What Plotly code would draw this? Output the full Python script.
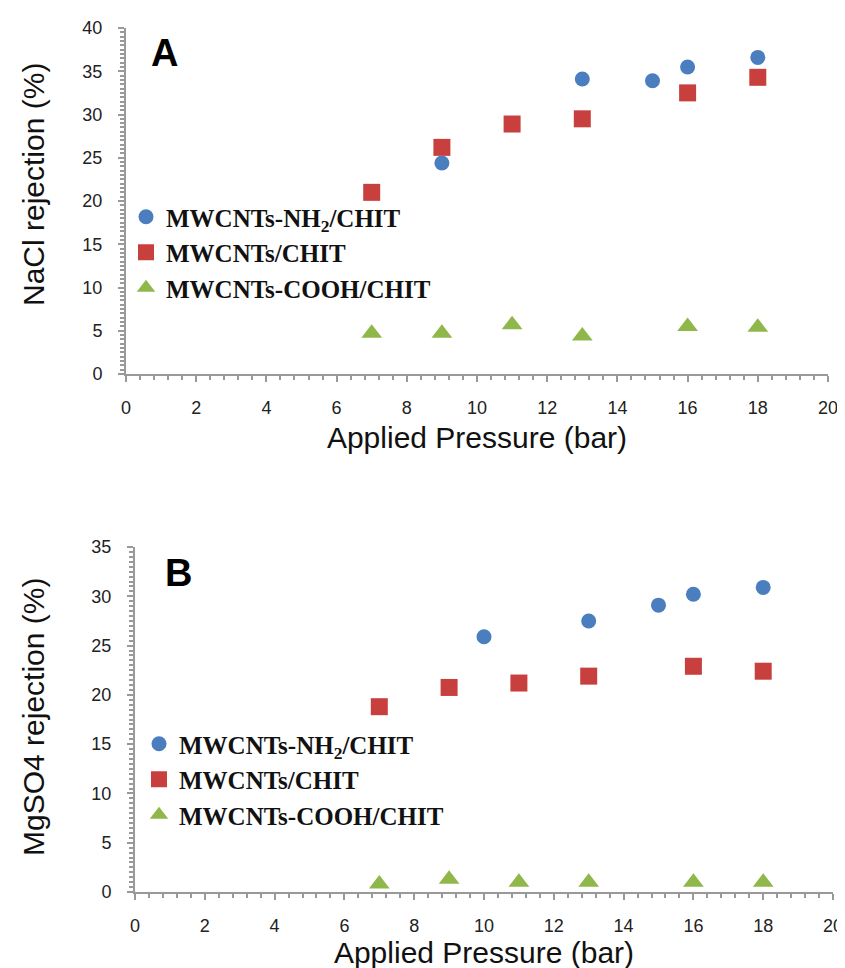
import plotly.graph_objects as go

# ---------------- data ----------------
pressure = [7, 9, 11, 13, 16, 18]

# Panel A : NaCl rejection (%)
nacl_nh2_x = [9, 13, 15, 16, 18]
nacl_nh2 = [24.4, 34.1, 33.9, 35.5, 36.6]
nacl_plain = [21.0, 26.2, 28.9, 29.5, 32.5, 34.3]
nacl_cooh = [4.7, 4.7, 5.7, 4.4, 5.5, 5.4]

# Panel B : MgSO4 rejection (%)
mgso4_nh2_x = [10, 13, 15, 16, 18]
mgso4_nh2 = [25.9, 27.5, 29.1, 30.2, 30.9]
mgso4_plain = [18.8, 20.75, 21.2, 21.9, 22.9, 22.4]
mgso4_cooh = [0.8, 1.3, 1.0, 1.0, 1.0, 1.0]

names = ["<b>MWCNTs-NH<sub>2</sub>/CHIT</b>", "<b>MWCNTs/CHIT</b>", "<b>MWCNTs-COOH/CHIT</b>"]
colors = ["#4a7ebf", "#c8403e", "#8fb74a"]
symbols = ["circle", "square", "triangle-up"]
sizes = [15, 17, 18]

x_ticks = list(range(0, 21, 2))
x_title = "Applied Pressure (bar)"
y_titles = ["NaCl rejection (%)", "MgSO4 rejection (%)"]
panel_labels = ["A", "B"]

# ---------------- figure ----------------
W, H = 845, 968
fig = go.Figure()

panels = [
    ("x", "y", "legend", [nacl_nh2_x, pressure, pressure], [nacl_nh2, nacl_plain, nacl_cooh]),
    ("x2", "y2", "legend2", [mgso4_nh2_x, pressure, pressure], [mgso4_nh2, mgso4_plain, mgso4_cooh]),
]
for xa, ya, lg, xs, ys in panels:
    for i in range(3):
        fig.add_trace(go.Scatter(
            x=xs[i], y=ys[i], mode="markers", name=names[i],
            xaxis=xa, yaxis=ya, legend=lg,
            marker=dict(symbol=symbols[i], color=colors[i], size=sizes[i], line=dict(width=0)),
        ))

def px_x(p):
    return p / W

def px_y(p):
    return (H - p) / H

tick_font = dict(family="Liberation Sans, Arial, sans-serif", size=18, color="#222")
title_font = dict(family="Liberation Sans, Arial, sans-serif", size=30, color="#111")
axis_common = dict(
    showgrid=False, zeroline=False, showline=True, linecolor="#999999", linewidth=2,
    ticks="outside", ticklen=6, tickcolor="#999999", tickwidth=1.5,
    tickfont=tick_font, automargin=False,
)
minor_x = dict(dtick=0.4, ticks="outside", ticklen=4, tickcolor="#999999")
minor_y = dict(dtick=0.5, ticks="outside", ticklen=4, tickcolor="#999999")
legend_font = dict(family="Liberation Serif, Times New Roman, serif", size=25, color="#111")

fig.update_layout(
    width=W, height=H, margin=dict(l=0, r=0, t=0, b=0, autoexpand=False),
    paper_bgcolor="white", plot_bgcolor="white",
    showlegend=True,
    xaxis=dict(domain=[px_x(118), px_x(820)], range=[0, 20], tickvals=x_ticks, anchor="y",
               title=dict(text=x_title, font=title_font, standoff=10),
               minor=minor_x, ticklabelstandoff=10, **axis_common),
    yaxis=dict(domain=[px_y(366), px_y(20)], range=[0, 40], dtick=5, anchor="x",
               minor=minor_y, ticklabelstandoff=12, **axis_common),
    xaxis2=dict(domain=[px_x(127), px_x(825)], range=[0, 20], tickvals=x_ticks, anchor="y2",
                title=dict(text=x_title, font=title_font, standoff=7),
                minor=minor_x, ticklabelstandoff=10, **axis_common),
    yaxis2=dict(domain=[px_y(884), px_y(539)], range=[0, 35], dtick=5, anchor="x2",
                minor=minor_y, ticklabelstandoff=12, **axis_common),
    legend=dict(x=px_x(118), y=px_y(186), xanchor="left", yanchor="top",
                bgcolor="rgba(0,0,0,0)", tracegroupgap=0, itemwidth=30, font=legend_font),
    legend2=dict(x=px_x(131), y=px_y(713), xanchor="left", yanchor="top",
                 bgcolor="rgba(0,0,0,0)", tracegroupgap=0, itemwidth=30, font=legend_font),
)

# y-axis titles (rotated text)
for txt, yy in [(y_titles[0], 177), (y_titles[1], 709)]:
    fig.add_annotation(text=txt, xref="paper", yref="paper", x=px_x(25), y=px_y(yy),
                       textangle=-90, showarrow=False, xanchor="center", yanchor="middle",
                       font=title_font)

# panel letters
for lab, xr, yr, xx, yy in [(panel_labels[0], "x domain", "y domain", 0.055, 0.927),
                             (panel_labels[1], "x2 domain", "y2 domain", 0.0625, 0.925)]:
    fig.add_annotation(text="<b>" + lab + "</b>", xref=xr, yref=yr, x=xx, y=yy,
                       showarrow=False, xanchor="center", yanchor="middle",
                       font=dict(family="Liberation Sans, Arial, sans-serif", size=38, color="black"))

fig.write_html("out.html")
